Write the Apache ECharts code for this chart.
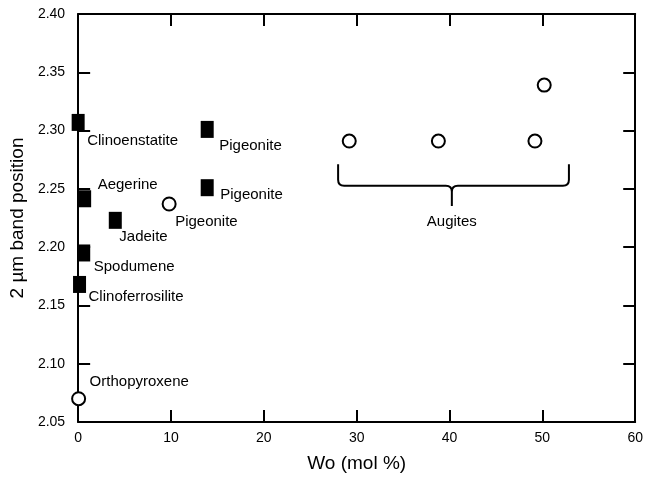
<!DOCTYPE html>
<html>
<head>
<meta charset="utf-8">
<script src="https://cdn.jsdelivr.net/npm/echarts@6/dist/echarts.min.js"></script>
<style>
html,body{margin:0;padding:0;background:#fff;}
#chart{width:646px;height:478px;}
</style>
</head>
<body>
<div id="chart"></div>
<script>
// Filled squares (clinopyroxenes / pigeonites)
var squareNames = ['Clinoenstatite', 'Pigeonite', 'Pigeonite', 'Aegerine', 'Jadeite', 'Spodumene', 'Clinoferrosilite'];
var squareWo    = [0.0, 13.9, 13.9, 0.7, 4.0, 0.6, 0.15];
var squareBand  = [2.307, 2.301, 2.251, 2.2415, 2.223, 2.195, 2.168];

// Open circles
var circleNames = ['Pigeonite', 'Orthopyroxene', '', '', '', ''];
var circleWo    = [9.8, 0.05, 29.2, 38.8, 49.2, 50.2];
var circleBand  = [2.237, 2.070, 2.291, 2.291, 2.291, 2.339];

// Augites bracket (Wo: left end, middle, right end; band: top ends, bar, tip)
var braceWo   = [28.0, 40.25, 52.86];
var braceBand = [2.2711, 2.2527, 2.2352];
var braceLabel = 'Augites';

// Axis tick values
var xTicks = [0, 10, 20, 30, 40, 50, 60];
var yTicks = [2.05, 2.10, 2.15, 2.20, 2.25, 2.30, 2.35, 2.40];

// Label offsets (pixels, style only)
var squareLabelOffsets = [[9, 18], [12, 16], [13, 7], [13, -14], [4, 17], [10, 14], [9, 12]];
var circleLabelOffsets = [[6, 18], [11, -17], [0, 0], [0, 0], [0, 0], [0, 0]];

var FONT = '"Liberation Sans", Arial, sans-serif';
var LABEL_SIZE = 15;

function makeData(xs, ys, names, offs) {
  return xs.map(function (x, i) {
    return {
      value: [x, ys[i]],
      name: names[i],
      label: {
        show: !!names[i],
        position: 'inside',
        align: 'left',
        verticalAlign: 'middle',
        offset: offs[i]
      }
    };
  });
}

var chart = echarts.init(document.getElementById('chart'), null, {renderer: 'canvas'});

var axisCommon = {
  axisLine: {show: true, onZero: false, lineStyle: {color: '#000', width: 2}},
  axisTick: {show: true, inside: true, length: 12, lineStyle: {color: '#000', width: 2}},
  splitLine: {show: false}
};

var labelStyle = {color: '#000', fontSize: LABEL_SIZE, fontFamily: FONT, formatter: '{b}', opacity: 1};

var option = {
  backgroundColor: '#fff',
  animation: false,
  textStyle: {fontFamily: FONT, color: '#000'},
  grid: {left: 75, right: 8, top: 14, bottom: 54, containLabel: false},
  xAxis: [
    Object.assign({}, axisCommon, {
      type: 'value', position: 'bottom',
      min: xTicks[0], max: xTicks[xTicks.length - 1], interval: xTicks[1] - xTicks[0],
      name: 'Wo (mol %)', nameLocation: 'middle', nameGap: 32,
      nameTextStyle: {color: '#000', fontSize: 19, fontFamily: FONT},
      axisLabel: {color: '#000', fontSize: 14, fontFamily: FONT, margin: 9}
    }),
    Object.assign({}, axisCommon, {
      type: 'value', position: 'top',
      min: xTicks[0], max: xTicks[xTicks.length - 1], interval: xTicks[1] - xTicks[0],
      axisLabel: {show: false}
    })
  ],
  yAxis: [
    Object.assign({}, axisCommon, {
      type: 'value', position: 'left',
      min: yTicks[0], max: yTicks[yTicks.length - 1], interval: 0.05,
      name: '2 \u00b5m band position', nameLocation: 'middle', nameGap: 47,
      nameTextStyle: {color: '#000', fontSize: 19, fontFamily: FONT},
      axisLabel: {color: '#000', fontSize: 14, fontFamily: FONT, margin: 13,
        formatter: function (v) { return v.toFixed(2); }}
    }),
    Object.assign({}, axisCommon, {
      type: 'value', position: 'right',
      min: yTicks[0], max: yTicks[yTicks.length - 1], interval: 0.05,
      axisLabel: {show: false}
    })
  ],
  series: [
    {
      type: 'custom',
      xAxisIndex: 0, yAxisIndex: 0,
      silent: true,
      data: [[braceWo[1], braceBand[2]]],
      renderItem: function (params, api) {
        var pl = api.coord([braceWo[0], braceBand[0]]);
        var pc = api.coord([braceWo[1], braceBand[1]]);
        var pr = api.coord([braceWo[2], braceBand[0]]);
        var pt = api.coord([braceWo[1], braceBand[2]]);
        var L = pl[0], C = pc[0], R = pr[0], T = pl[1], H = pc[1], B = pt[1];
        var r = 6;
        var d = 'M' + L + ' ' + T + ' L' + L + ' ' + (H - r) +
          ' Q' + L + ' ' + H + ' ' + (L + r) + ' ' + H +
          ' L' + (C - r) + ' ' + H +
          ' Q' + C + ' ' + H + ' ' + C + ' ' + (H + r) +
          ' L' + C + ' ' + B +
          ' M' + C + ' ' + (H + r) +
          ' Q' + C + ' ' + H + ' ' + (C + r) + ' ' + H +
          ' L' + (R - r) + ' ' + H +
          ' Q' + R + ' ' + H + ' ' + R + ' ' + (H - r) +
          ' L' + R + ' ' + T;
        return {
          type: 'group',
          children: [
            {type: 'path', shape: {pathData: d},
              style: {stroke: '#000', lineWidth: 2, fill: null}},
            {type: 'text', x: C, y: B + 16,
              style: {text: braceLabel, fill: '#000', fontSize: LABEL_SIZE, fontFamily: FONT,
                align: 'center', verticalAlign: 'middle'}}
          ]
        };
      }
    },
    {
      type: 'scatter',
      name: 'squares',
      symbol: 'rect',
      symbolSize: [13, 17],
      itemStyle: {color: '#000', opacity: 1},
      label: labelStyle,
      emphasis: {disabled: true},
      data: makeData(squareWo, squareBand, squareNames, squareLabelOffsets)
    },
    {
      type: 'scatter',
      name: 'circles',
      symbol: 'circle',
      symbolSize: 13,
      itemStyle: {color: '#fff', borderColor: '#000', borderWidth: 2, opacity: 1},
      label: labelStyle,
      emphasis: {disabled: true},
      data: makeData(circleWo, circleBand, circleNames, circleLabelOffsets)
    }
  ]
};

chart.setOption(option);
</script>
</body>
</html>
